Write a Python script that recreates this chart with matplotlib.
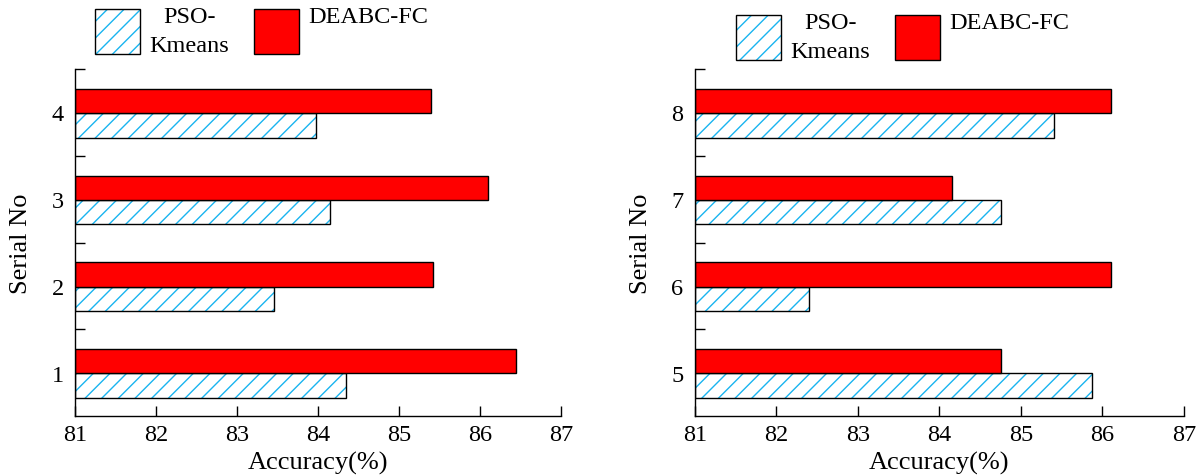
import matplotlib
matplotlib.use('Agg')
import matplotlib.pyplot as plt
import numpy as np
from matplotlib.patches import Patch
from matplotlib.legend_handler import HandlerTuple

plt.rcParams['font.family'] = ['Liberation Serif', 'DejaVu Serif']
plt.rcParams['hatch.linewidth'] = 1.0

# accuracy per serial number
serial_left = [1, 2, 3, 4]
pso_left = [84.35, 83.46, 84.15, 83.97]
deabc_left = [86.45, 85.42, 86.10, 85.40]

serial_right = [5, 6, 7, 8]
pso_right = [85.87, 82.40, 84.75, 85.40]
deabc_right = [84.76, 86.10, 84.15, 86.10]

x_ticks = [81, 82, 83, 84, 85, 86, 87]

hatch_color = '#19b4f0'
red = '#ff0000'
fs = 17.5
label_fs = 19
bar_h = 0.28

fig = plt.figure(figsize=(12.04, 4.77), dpi=100)
ax1 = fig.add_axes([0.0623, 0.1258, 0.4036, 0.7274])
ax2 = fig.add_axes([0.5770, 0.1258, 0.4064, 0.7274])


def draw(ax, serial, pso, deabc):
    pos = np.arange(len(serial)) + 1
    base = x_ticks[0]
    pso_w = np.array(pso) - base
    deabc_w = np.array(deabc) - base
    # hatched bars: hatch layer then black outline on top
    ax.barh(pos - 0.01, pso_w, height=-bar_h, left=base, align='edge',
            facecolor='white', edgecolor=hatch_color, hatch='//', linewidth=0)
    ax.barh(pos - 0.01, pso_w, height=-bar_h, left=base, align='edge',
            fill=False, edgecolor='black', linewidth=1.0)
    ax.barh(pos - 0.01, deabc_w, height=bar_h, left=base, align='edge',
            facecolor=red, edgecolor='black', linewidth=1.0)

    ax.set_xlim(81, 87)
    ax.set_ylim(0.5, len(serial) + 0.5)
    ax.set_xticks(x_ticks)
    ax.set_yticks(pos)
    ax.set_yticklabels([str(s) for s in serial])
    ax.set_yticks(pos + 0.5, minor=True)
    ax.tick_params(axis='x', direction='in', length=7, width=1.0,
                   labelsize=fs, pad=6)
    ax.tick_params(axis='y', which='major', length=0, labelsize=fs, pad=8)
    ax.tick_params(axis='y', which='minor', direction='in', length=7,
                   width=1.0)
    for side in ['top', 'right']:
        ax.spines[side].set_visible(False)
    for side in ['left', 'bottom']:
        ax.spines[side].set_linewidth(1.0)
    ax.set_xlabel('Accuracy(%)', fontsize=label_fs, labelpad=4)
    ax.set_ylabel('Serial No', fontsize=label_fs, labelpad=14)


draw(ax1, serial_left, pso_left, deabc_left)
draw(ax2, serial_right, pso_right, deabc_right)

pso_handle = (Patch(facecolor='white', edgecolor=hatch_color, hatch='//',
                    linewidth=0),
              Patch(fill=False, edgecolor='black', linewidth=1.0))
deabc_handle = Patch(facecolor=red, edgecolor='black', linewidth=1.0)


def add_legend(x, y):
    leg = fig.legend([pso_handle, deabc_handle],
                     ['PSO-\nKmeans', 'DEABC-FC\n '],
                     handler_map={tuple: HandlerTuple(ndivide=1, pad=0)},
                     loc='upper left', bbox_to_anchor=(x, y),
                     ncol=2, frameon=False, fontsize=fs,
                     handlelength=1.85, handleheight=2.5,
                     handletextpad=0.4, columnspacing=1.0,
                     borderpad=0, borderaxespad=0)
    for t in leg.get_texts():
        t.set_multialignment('center')
        t.set_linespacing(1.5)
    return leg


add_legend(95 / 1204, 1 - 7 / 477)
add_legend(736 / 1204, 1 - 13 / 477)

fig.savefig('out.png', dpi=100)
